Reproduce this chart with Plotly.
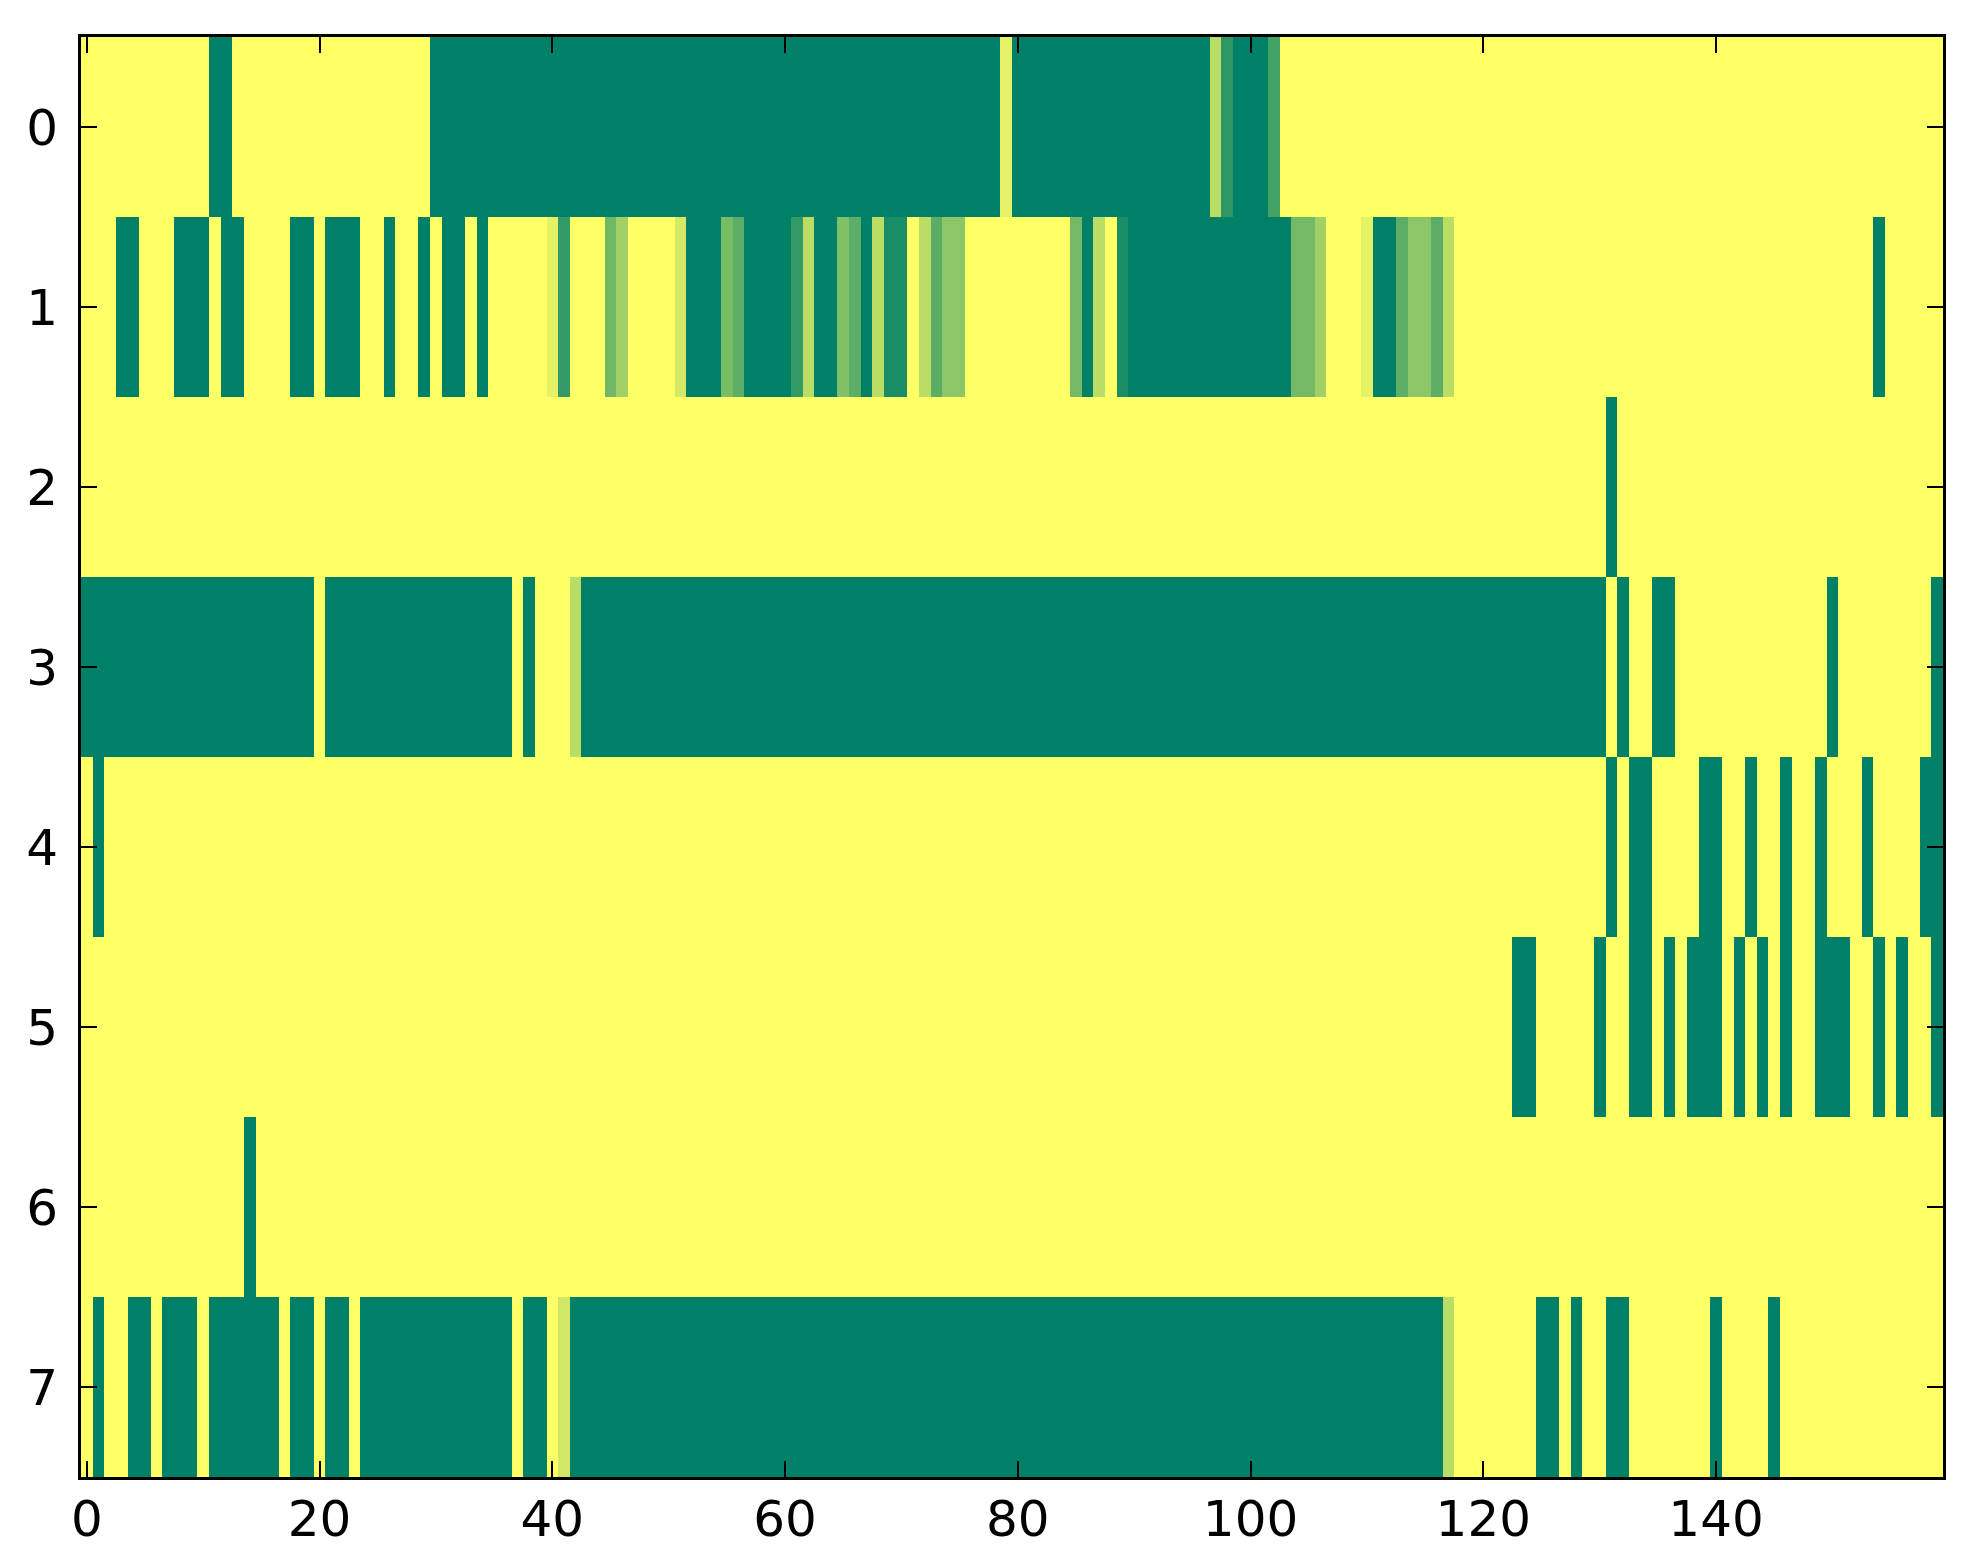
import plotly.graph_objects as go

# -----------------------
# Data: 8 rows x 160 columns, values 0..1
# -----------------------

columns = list(range(160))
rows = list(range(8))

x_ticks = [0, 20, 40, 60, 80, 100, 120, 140]
y_ticks = [0, 1, 2, 3, 4, 5, 6, 7]

row0 = [0, 0, 0, 0, 0, 0, 0, 0, 0, 0, 0, 1, 1, 0, 0, 0, 0, 0, 0, 0,
        0, 0, 0, 0, 0, 0, 0, 0, 0, 0, 1, 1, 1, 1, 1, 1, 1, 1, 1, 1,
        1, 1, 1, 1, 1, 1, 1, 1, 1, 1, 1, 1, 1, 1, 1, 1, 1, 1, 1, 1,
        1, 1, 1, 1, 1, 1, 1, 1, 1, 1, 1, 1, 1, 1, 1, 1, 1, 1, 1, 0.1,
        1, 1, 1, 1, 1, 1, 1, 1, 1, 1, 1, 1, 1, 1, 1, 1, 1, 0.27, 0.82, 1,
        1, 1, 0.73, 0, 0, 0, 0, 0, 0, 0, 0, 0, 0, 0, 0, 0, 0, 0, 0, 0,
        0, 0, 0, 0, 0, 0, 0, 0, 0, 0, 0, 0, 0, 0, 0, 0, 0, 0, 0, 0,
        0, 0, 0, 0, 0, 0, 0, 0, 0, 0, 0, 0, 0, 0, 0, 0, 0, 0, 0, 0]

row1 = [0, 0, 0, 1, 1, 0, 0, 0, 1, 1, 1, 0, 1, 1, 0, 0, 0, 0, 1, 1,
        0, 1, 1, 1, 0, 0, 1, 0, 0, 1, 0, 1, 1, 0, 1, 0, 0, 0, 0, 0,
        0.1, 0.8, 0, 0, 0, 0.56, 0.37, 0, 0, 0, 0, 0.17, 1, 1, 1, 0.53, 0.64, 1, 1, 1,
        1, 0.8, 0.27, 1, 1, 0.5, 0.64, 1, 0.27, 0.9, 0.9, 0, 0.27, 0.64, 0.45, 0.45, 0, 0, 0, 0,
        0, 0, 0, 0, 0, 0.55, 1, 0.27, 0, 0.9, 1, 1, 1, 1, 1, 1, 1, 1, 1, 1,
        1, 1, 1, 1, 0.55, 0.55, 0.37, 0, 0, 0, 0.1, 1, 1, 0.64, 0.45, 0.45, 0.64, 0.27, 0, 0,
        0, 0, 0, 0, 0, 0, 0, 0, 0, 0, 0, 0, 0, 0, 0, 0, 0, 0, 0, 0,
        0, 0, 0, 0, 0, 0, 0, 0, 0, 0, 0, 0, 0, 0, 1, 0, 0, 0, 0, 0]

row2 = [0, 0, 0, 0, 0, 0, 0, 0, 0, 0, 0, 0, 0, 0, 0, 0, 0, 0, 0, 0,
        0, 0, 0, 0, 0, 0, 0, 0, 0, 0, 0, 0, 0, 0, 0, 0, 0, 0, 0, 0,
        0, 0, 0, 0, 0, 0, 0, 0, 0, 0, 0, 0, 0, 0, 0, 0, 0, 0, 0, 0,
        0, 0, 0, 0, 0, 0, 0, 0, 0, 0, 0, 0, 0, 0, 0, 0, 0, 0, 0, 0,
        0, 0, 0, 0, 0, 0, 0, 0, 0, 0, 0, 0, 0, 0, 0, 0, 0, 0, 0, 0,
        0, 0, 0, 0, 0, 0, 0, 0, 0, 0, 0, 0, 0, 0, 0, 0, 0, 0, 0, 0,
        0, 0, 0, 0, 0, 0, 0, 0, 0, 0, 0, 1, 0, 0, 0, 0, 0, 0, 0, 0,
        0, 0, 0, 0, 0, 0, 0, 0, 0, 0, 0, 0, 0, 0, 0, 0, 0, 0, 0, 0]

row3 = [1, 1, 1, 1, 1, 1, 1, 1, 1, 1, 1, 1, 1, 1, 1, 1, 1, 1, 1, 1,
        0, 1, 1, 1, 1, 1, 1, 1, 1, 1, 1, 1, 1, 1, 1, 1, 1, 0, 1, 0,
        0, 0, 0.27, 1, 1, 1, 1, 1, 1, 1, 1, 1, 1, 1, 1, 1, 1, 1, 1, 1,
        1, 1, 1, 1, 1, 1, 1, 1, 1, 1, 1, 1, 1, 1, 1, 1, 1, 1, 1, 1,
        1, 1, 1, 1, 1, 1, 1, 1, 1, 1, 1, 1, 1, 1, 1, 1, 1, 1, 1, 1,
        1, 1, 1, 1, 1, 1, 1, 1, 1, 1, 1, 1, 1, 1, 1, 1, 1, 1, 1, 1,
        1, 1, 1, 1, 1, 1, 1, 1, 1, 1, 1, 0, 1, 0, 0, 1, 1, 0, 0, 0,
        0, 0, 0, 0, 0, 0, 0, 0, 0, 0, 1, 0, 0, 0, 0, 0, 0, 0, 0, 1]

row4 = [0, 1, 0, 0, 0, 0, 0, 0, 0, 0, 0, 0, 0, 0, 0, 0, 0, 0, 0, 0,
        0, 0, 0, 0, 0, 0, 0, 0, 0, 0, 0, 0, 0, 0, 0, 0, 0, 0, 0, 0,
        0, 0, 0, 0, 0, 0, 0, 0, 0, 0, 0, 0, 0, 0, 0, 0, 0, 0, 0, 0,
        0, 0, 0, 0, 0, 0, 0, 0, 0, 0, 0, 0, 0, 0, 0, 0, 0, 0, 0, 0,
        0, 0, 0, 0, 0, 0, 0, 0, 0, 0, 0, 0, 0, 0, 0, 0, 0, 0, 0, 0,
        0, 0, 0, 0, 0, 0, 0, 0, 0, 0, 0, 0, 0, 0, 0, 0, 0, 0, 0, 0,
        0, 0, 0, 0, 0, 0, 0, 0, 0, 0, 0, 1, 0, 1, 1, 0, 0, 0, 0, 1,
        1, 0, 0, 1, 0, 0, 1, 0, 0, 1, 0, 0, 0, 1, 0, 0, 0, 0, 1, 1]

row5 = [0, 0, 0, 0, 0, 0, 0, 0, 0, 0, 0, 0, 0, 0, 0, 0, 0, 0, 0, 0,
        0, 0, 0, 0, 0, 0, 0, 0, 0, 0, 0, 0, 0, 0, 0, 0, 0, 0, 0, 0,
        0, 0, 0, 0, 0, 0, 0, 0, 0, 0, 0, 0, 0, 0, 0, 0, 0, 0, 0, 0,
        0, 0, 0, 0, 0, 0, 0, 0, 0, 0, 0, 0, 0, 0, 0, 0, 0, 0, 0, 0,
        0, 0, 0, 0, 0, 0, 0, 0, 0, 0, 0, 0, 0, 0, 0, 0, 0, 0, 0, 0,
        0, 0, 0, 0, 0, 0, 0, 0, 0, 0, 0, 0, 0, 0, 0, 0, 0, 0, 0, 0,
        0, 0, 0, 1, 1, 0, 0, 0, 0, 0, 1, 0, 0, 1, 1, 0, 1, 0, 1, 1,
        1, 0, 1, 0, 1, 0, 1, 0, 0, 1, 1, 1, 0, 0, 1, 0, 1, 0, 0, 1]

row6 = [0, 0, 0, 0, 0, 0, 0, 0, 0, 0, 0, 0, 0, 0, 1, 0, 0, 0, 0, 0,
        0, 0, 0, 0, 0, 0, 0, 0, 0, 0, 0, 0, 0, 0, 0, 0, 0, 0, 0, 0,
        0, 0, 0, 0, 0, 0, 0, 0, 0, 0, 0, 0, 0, 0, 0, 0, 0, 0, 0, 0,
        0, 0, 0, 0, 0, 0, 0, 0, 0, 0, 0, 0, 0, 0, 0, 0, 0, 0, 0, 0,
        0, 0, 0, 0, 0, 0, 0, 0, 0, 0, 0, 0, 0, 0, 0, 0, 0, 0, 0, 0,
        0, 0, 0, 0, 0, 0, 0, 0, 0, 0, 0, 0, 0, 0, 0, 0, 0, 0, 0, 0,
        0, 0, 0, 0, 0, 0, 0, 0, 0, 0, 0, 0, 0, 0, 0, 0, 0, 0, 0, 0,
        0, 0, 0, 0, 0, 0, 0, 0, 0, 0, 0, 0, 0, 0, 0, 0, 0, 0, 0, 0]

row7 = [0, 1, 0, 0, 1, 1, 0, 1, 1, 1, 0, 1, 1, 1, 1, 1, 1, 0, 1, 1,
        0, 1, 1, 0, 1, 1, 1, 1, 1, 1, 1, 1, 1, 1, 1, 1, 1, 0, 1, 1,
        0, 0.18, 1, 1, 1, 1, 1, 1, 1, 1, 1, 1, 1, 1, 1, 1, 1, 1, 1, 1,
        1, 1, 1, 1, 1, 1, 1, 1, 1, 1, 1, 1, 1, 1, 1, 1, 1, 1, 1, 1,
        1, 1, 1, 1, 1, 1, 1, 1, 1, 1, 1, 1, 1, 1, 1, 1, 1, 1, 1, 1,
        1, 1, 1, 1, 1, 1, 1, 1, 1, 1, 1, 1, 1, 1, 1, 1, 1, 0.27, 0, 0,
        0, 0, 0, 0, 0, 1, 1, 0, 1, 0, 0, 1, 1, 0, 0, 0, 0, 0, 0, 0,
        1, 0, 0, 0, 0, 1, 0, 0, 0, 0, 0, 0, 0, 0, 0, 0, 0, 0, 0, 0]

z = [row0, row1, row2, row3, row4, row5, row6, row7]

# summer_r: yellow at 0, green at 1
summer_r = [[0, "#ffff66"], [1, "#008066"]]

# -----------------------
# Heatmap
# -----------------------

fig = go.Figure()

fig.add_trace(go.Heatmap(
    z=z,
    x=columns,
    y=rows,
    colorscale=summer_r,
    zmin=0,
    zmax=1,
    showscale=False,
    hovertemplate="col %{x}<br>row %{y}<br>value %{z}<extra></extra>"
))

axis_style = dict(
    showline=True,
    linewidth=3,
    linecolor="black",
    mirror="allticks",
    ticks="inside",
    ticklen=16,
    tickwidth=1.5,
    tickcolor="black",
    showgrid=False,
    zeroline=False,
    tickfont=dict(family="DejaVu Sans", size=50, color="black"),
)

fig.update_xaxes(
    range=[-0.5, 159.5],
    tickvals=x_ticks,
    ticklabelstandoff=-4,
    **axis_style
)

fig.update_yaxes(
    range=[7.5, -0.5],
    tickvals=y_ticks,
    ticklabelstandoff=10,
    **axis_style
)

fig.update_layout(
    width=1963,
    height=1564,
    margin=dict(l=73, r=28, t=29, b=95),
    paper_bgcolor="white",
    plot_bgcolor="white",
)

fig.write_html("out.html")
